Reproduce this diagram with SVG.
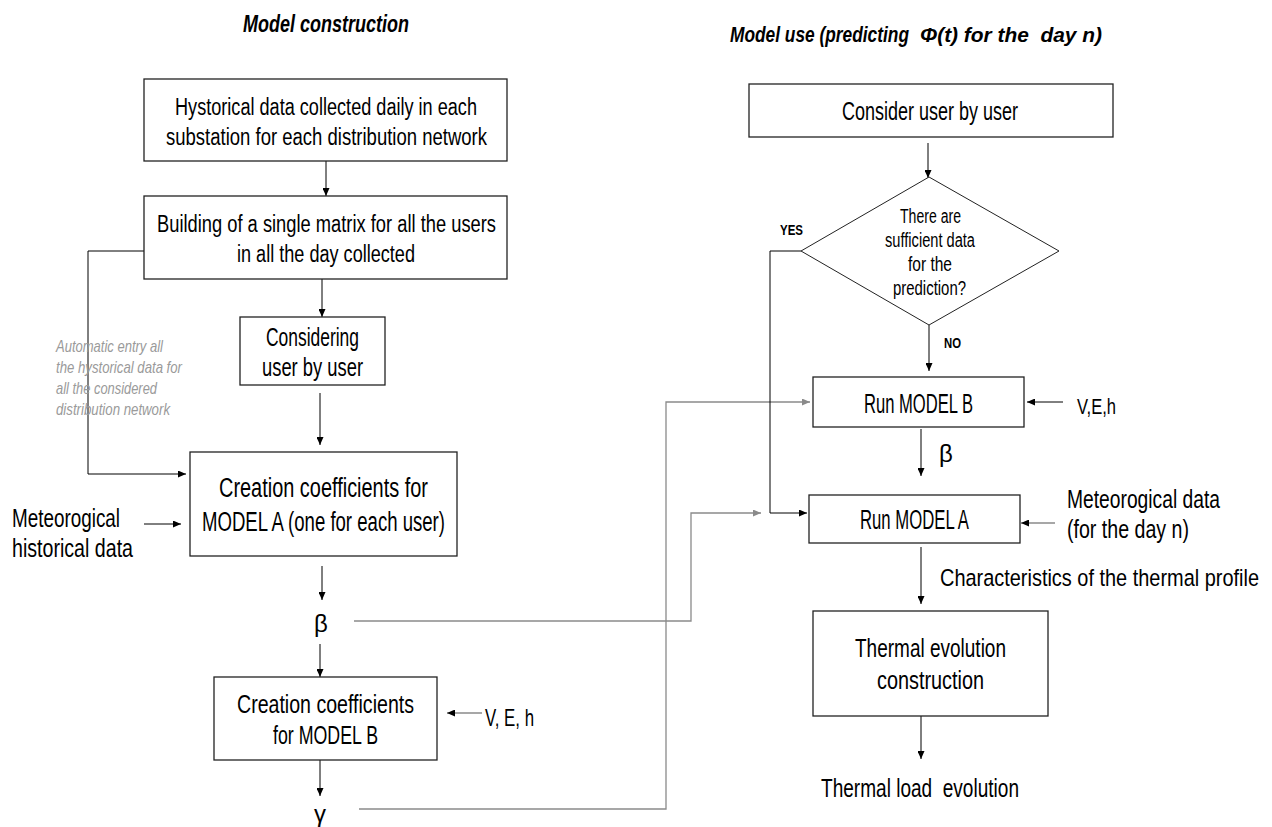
<svg xmlns="http://www.w3.org/2000/svg" width="1272" height="827" viewBox="0 0 1272 827">
<defs>
<marker id="ah" markerWidth="8" markerHeight="7" refX="8" refY="3.5" orient="auto" markerUnits="userSpaceOnUse"><path d="M0,0 L8,3.5 L0,7 z" fill="#000"/></marker>
<marker id="ahg" markerWidth="8" markerHeight="7" refX="8" refY="3.5" orient="auto" markerUnits="userSpaceOnUse"><path d="M0,0 L8,3.5 L0,7 z" fill="#8a8a8a"/></marker>
</defs>
<style>
text{font-family:"Liberation Sans Narrow","Liberation Sans",Arial,sans-serif;fill:#000;white-space:pre}
.box{fill:#fff;stroke:#222;stroke-width:1.3}
.c{fill:none;stroke:#000;stroke-width:1}
.g{fill:none;stroke:#8a8a8a;stroke-width:1.3}
.t{font-weight:bold;font-style:italic}
.ann{font-style:italic;fill:#9a9a9a;font-size:17px}
.lbl{font-weight:bold;font-size:15px}
</style>
<rect width="1272" height="827" fill="#fff"/>

<g id="title-left"><text class="t" x="243" y="32" font-size="23" textLength="166" lengthAdjust="spacingAndGlyphs">Model construction</text></g>
<g id="title-right">
<text class="t" x="730" y="42" font-size="21.5"><tspan textLength="179" lengthAdjust="spacingAndGlyphs">Model use (predicting</tspan><tspan x="920" font-size="21" textLength="182" lengthAdjust="spacingAndGlyphs" style="font-family:'Liberation Sans',Arial,sans-serif">Φ(t) for the  day n)</tspan></text>
</g>

<g id="connectors">
<line class="c" x1="326" y1="161" x2="326" y2="196" marker-end="url(#ah)"/>
<line class="c" x1="322" y1="279" x2="322" y2="317" marker-end="url(#ah)"/>
<line class="c" x1="320" y1="393" x2="320" y2="445" marker-end="url(#ah)"/>
<polyline class="c" points="144,251 88,251 88,474 186,474" marker-end="url(#ah)"/>
<line class="c" x1="144" y1="524" x2="181" y2="524" marker-end="url(#ah)"/>
<line class="c" x1="322" y1="566" x2="322" y2="600" marker-end="url(#ah)"/>
<line class="c" x1="320" y1="644" x2="320" y2="677" marker-end="url(#ah)"/>
<line class="g" x1="482" y1="713" x2="447" y2="713" marker-end="url(#ah)"/>
<line class="c" x1="320" y1="760" x2="320" y2="796" marker-end="url(#ah)"/>
<polyline class="g" points="354,621 691,621 691,513 761,513" marker-end="url(#ahg)"/>
<polyline class="g" points="359,809 666,809 666,402 810,402" marker-end="url(#ahg)"/>
<line class="c" x1="928" y1="143" x2="928" y2="178" marker-end="url(#ah)"/>
<line class="c" x1="929" y1="325" x2="929" y2="371" marker-end="url(#ah)"/>
<polyline class="c" points="801,251 770,251 770,513 807,513" marker-end="url(#ah)"/>
<line class="c" x1="1063" y1="402" x2="1027" y2="402" marker-end="url(#ah)"/>
<line class="c" x1="921" y1="429" x2="921" y2="476" marker-end="url(#ah)"/>
<line class="g" x1="1055" y1="523" x2="1021" y2="523" marker-end="url(#ah)"/>
<line class="c" x1="921" y1="547" x2="921" y2="604" marker-end="url(#ah)"/>
<line class="c" x1="921" y1="716" x2="921" y2="759" marker-end="url(#ah)"/>
</g>

<g id="n-hist">
<rect class="box" x="144" y="79" width="363" height="82"/>
<text x="175" y="115" font-size="23" textLength="302" lengthAdjust="spacingAndGlyphs">Hystorical data collected daily in each</text>
<text x="166" y="145" font-size="23" textLength="321" lengthAdjust="spacingAndGlyphs">substation for each distribution network</text>
</g>
<g id="n-matrix">
<rect class="box" x="144" y="196" width="363" height="83"/>
<text x="157" y="232" font-size="23" textLength="339" lengthAdjust="spacingAndGlyphs">Building of a single matrix for all the users</text>
<text x="237" y="262" font-size="23" textLength="178" lengthAdjust="spacingAndGlyphs">in all the day collected</text>
</g>
<g id="n-considering">
<rect class="box" x="240" y="317" width="145" height="68"/>
<text x="266" y="346" font-size="25" textLength="93" lengthAdjust="spacingAndGlyphs">Considering</text>
<text x="262" y="376" font-size="25" textLength="101" lengthAdjust="spacingAndGlyphs">user by user</text>
</g>
<g id="n-annotation">
<text class="ann" x="56" y="352" textLength="107" lengthAdjust="spacingAndGlyphs">Automatic entry all</text>
<text class="ann" x="56" y="373" textLength="126" lengthAdjust="spacingAndGlyphs">the hystorical data for</text>
<text class="ann" x="56" y="394" textLength="101" lengthAdjust="spacingAndGlyphs">all the considered</text>
<text class="ann" x="56" y="415" textLength="114" lengthAdjust="spacingAndGlyphs">distribution network</text>
</g>
<g id="n-modelA-coef">
<rect class="box" x="190" y="452" width="267" height="104"/>
<text x="219" y="497" font-size="27" textLength="209" lengthAdjust="spacingAndGlyphs">Creation coefficients for</text>
<text x="202" y="531" font-size="27" textLength="243" lengthAdjust="spacingAndGlyphs">MODEL A (one for each user)</text>
</g>
<g id="n-meteo-hist">
<text x="12" y="527" font-size="25" textLength="108" lengthAdjust="spacingAndGlyphs">Meteorogical</text>
<text x="12" y="557" font-size="25" textLength="121" lengthAdjust="spacingAndGlyphs">historical data</text>
</g>
<g id="n-beta-left"><text x="321" y="632" font-size="24" text-anchor="middle">β</text></g>
<g id="n-modelB-coef">
<rect class="box" x="214" y="677" width="223" height="83"/>
<text x="237" y="713" font-size="26" textLength="177" lengthAdjust="spacingAndGlyphs">Creation coefficients</text>
<text x="273" y="744" font-size="26" textLength="105" lengthAdjust="spacingAndGlyphs">for MODEL B</text>
</g>
<g id="n-veh-left"><text x="485" y="726" font-size="24" textLength="49" lengthAdjust="spacingAndGlyphs">V, E, h</text></g>
<g id="n-gamma"><text x="320" y="822" font-size="24" text-anchor="middle">γ</text></g>

<g id="n-consider">
<rect class="box" x="749" y="84" width="364" height="53"/>
<text x="842" y="120" font-size="25" textLength="176" lengthAdjust="spacingAndGlyphs">Consider user by user</text>
</g>
<g id="n-decision">
<polygon class="box" points="929,177 1059,251 929,325 801,251" style="stroke-width:1"/>
<text x="900" y="223" font-size="20" textLength="61" lengthAdjust="spacingAndGlyphs">There are</text>
<text x="885" y="247" font-size="20" textLength="90" lengthAdjust="spacingAndGlyphs">sufficient data</text>
<text x="908" y="271" font-size="20" textLength="44" lengthAdjust="spacingAndGlyphs">for the</text>
<text x="893" y="295" font-size="20" textLength="73" lengthAdjust="spacingAndGlyphs">prediction?</text>
</g>
<g id="n-yes"><text class="lbl" x="780" y="235" textLength="23" lengthAdjust="spacingAndGlyphs">YES</text></g>
<g id="n-no"><text class="lbl" x="944" y="348" textLength="17" lengthAdjust="spacingAndGlyphs">NO</text></g>
<g id="n-runB">
<rect class="box" x="813" y="377" width="211" height="50"/>
<text x="864" y="413" font-size="27" textLength="109" lengthAdjust="spacingAndGlyphs">Run MODEL B</text>
</g>
<g id="n-veh-right"><text x="1077" y="414" font-size="22" textLength="39" lengthAdjust="spacingAndGlyphs">V,E,h</text></g>
<g id="n-beta-right"><text x="939" y="462" font-size="24">β</text></g>
<g id="n-runA">
<rect class="box" x="809" y="495" width="211" height="48"/>
<text x="860" y="529" font-size="27" textLength="109" lengthAdjust="spacingAndGlyphs">Run MODEL A</text>
</g>
<g id="n-meteo-day">
<text x="1067" y="508" font-size="25" textLength="153" lengthAdjust="spacingAndGlyphs">Meteorogical data</text>
<text x="1067" y="538" font-size="25" textLength="122" lengthAdjust="spacingAndGlyphs">(for the day n)</text>
</g>
<g id="n-characteristics"><text x="940" y="586" font-size="24.5" textLength="319" lengthAdjust="spacingAndGlyphs">Characteristics of the thermal profile</text></g>
<g id="n-thermal-evo">
<rect class="box" x="813" y="611" width="235" height="105"/>
<text x="855" y="657" font-size="26" textLength="151" lengthAdjust="spacingAndGlyphs">Thermal evolution</text>
<text x="877" y="689" font-size="26" textLength="107" lengthAdjust="spacingAndGlyphs">construction</text>
</g>
<g id="n-thermal-load"><text x="821" y="797" font-size="25" textLength="198" lengthAdjust="spacingAndGlyphs">Thermal load  evolution</text></g>
</svg>
